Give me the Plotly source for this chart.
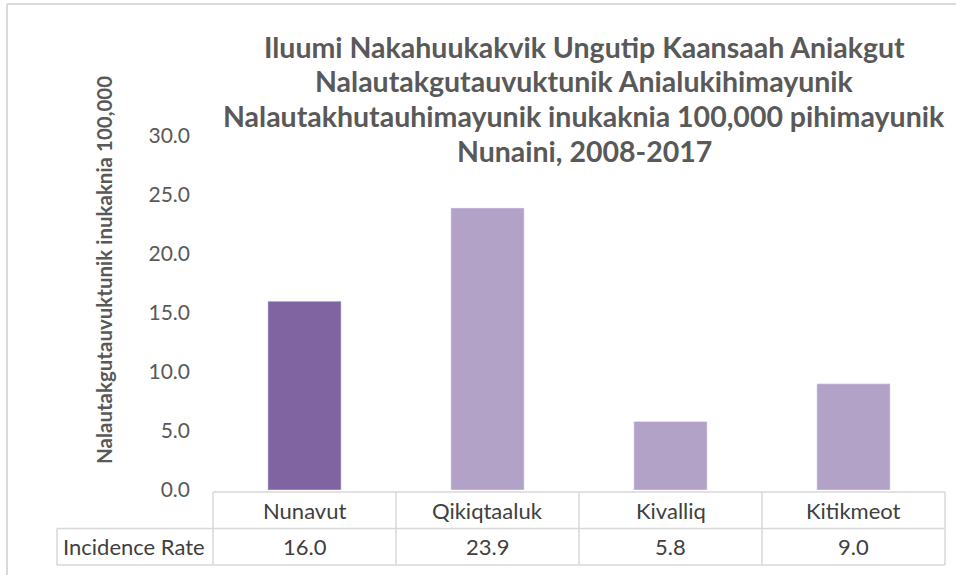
import plotly.graph_objects as go

categories = ["Nunavut", "Qikiqtaaluk", "Kivalliq", "Kitikmeot"]
values = [16.0, 23.9, 5.8, 9.0]
series_name = "Incidence Rate"
colors = ["#8064A2", "#B3A2C7", "#B3A2C7", "#B3A2C7"]
title_lines = [
    "Iluumi Nakahuukakvik Ungutip Kaansaah Aniakgut",
    "Nalautakgutauvuktunik Anialukihimayunik",
    "Nalautakhutauhimayunik inukaknia 100,000 pihimayunik",
    "Nunaini, 2008-2017",
]
y_title = "Nalautakgutauvuktunik inukaknia 100,000"
y_ticks = [0, 5, 10, 15, 20, 25, 30]

W, H = 956, 575
L, R, T, B = 213, 11, 136, 85
pw, ph = W - L - R, H - T - B

def px_x(x):
    return (x - L) / pw

def px_y(y):
    return (H - B - y) / ph

TXT = "#404040"
GRID = "#D9D9D9"
FONT = "Lato"
LW = 1.5

fig = go.Figure()
fig.add_trace(go.Bar(
    x=list(range(len(categories))), y=values, marker_color=colors,
    width=0.4, name=series_name, showlegend=False, hoverinfo="skip",
))

n = len(categories)
top = px_y(492)
row1 = px_y(528.5)
row2 = px_y(565)
shapes = []
shapes.append(dict(type="line", xref="paper", yref="paper", x0=0, x1=1, y0=top, y1=top,
                   line=dict(color=GRID, width=LW)))
for yy in (row1, row2):
    shapes.append(dict(type="line", xref="paper", yref="paper", x0=px_x(57), x1=1, y0=yy, y1=yy,
                       line=dict(color=GRID, width=LW)))
for i in range(n + 1):
    shapes.append(dict(type="line", xref="paper", yref="paper", x0=i / n, x1=i / n, y0=top, y1=row2,
                       line=dict(color=GRID, width=LW)))
shapes.append(dict(type="line", xref="paper", yref="paper", x0=px_x(57), x1=px_x(57), y0=row1, y1=row2,
                   line=dict(color=GRID, width=LW)))
shapes.append(dict(type="line", xref="paper", yref="paper", x0=px_x(7), x1=px_x(960), y0=px_y(4), y1=px_y(4),
                   line=dict(color=GRID, width=2)))
shapes.append(dict(type="line", xref="paper", yref="paper", x0=px_x(7), x1=px_x(7), y0=px_y(4), y1=px_y(580),
                   line=dict(color=GRID, width=2)))

ann = []
hy = (top + row1) / 2
dy = (row1 + row2) / 2
for i, (c, v) in enumerate(zip(categories, values)):
    ann.append(dict(x=i, y=hy, xref="x", yref="paper", yanchor="middle", xanchor="center", text=c,
                    showarrow=False, font=dict(family=FONT, size=22, color=TXT)))
    ann.append(dict(x=i, y=dy, xref="x", yref="paper", yanchor="middle", xanchor="center", text=f"{v:.1f}",
                    showarrow=False, font=dict(family=FONT, size=22, color=TXT)))
ann.append(dict(x=px_x(134), y=dy, xref="paper", yref="paper", yanchor="middle", xanchor="center",
                text=series_name, showarrow=False, font=dict(family=FONT, size=22, color=TXT)))
for k, line in enumerate(title_lines):
    ann.append(dict(x=px_x(584), y=px_y(47 + 34.5 * k), xref="paper", yref="paper", yanchor="middle",
                    xanchor="center", text=line, showarrow=False,
                    font=dict(family=FONT, size=28.5, color="#595959", weight="bold")))
ann.append(dict(x=px_x(104), y=px_y(270), xref="paper", yref="paper", yanchor="middle", xanchor="center",
                text=y_title, textangle=-90,
                showarrow=False, font=dict(family=FONT, size=20.5, color="#595959", weight="bold")))

fig.update_layout(
    width=W, height=H,
    margin=dict(l=L, r=R, t=T, b=B),
    paper_bgcolor="white", plot_bgcolor="white",
    xaxis=dict(range=[-0.5, n - 0.5], showticklabels=False, showgrid=False, zeroline=False,
               showline=False, ticks=""),
    yaxis=dict(range=[0, 30], tickvals=y_ticks, ticktext=[f"{t:.1f}" for t in y_ticks],
               showgrid=False, zeroline=False, showline=False, ticks="", ticklabelstandoff=22,
               tickfont=dict(family=FONT, size=21, color="#595959")),
    shapes=shapes, annotations=ann,
)
fig.write_html("out.html", config={"displayModeBar": False},
               post_script="document.body.style.margin='0';")
